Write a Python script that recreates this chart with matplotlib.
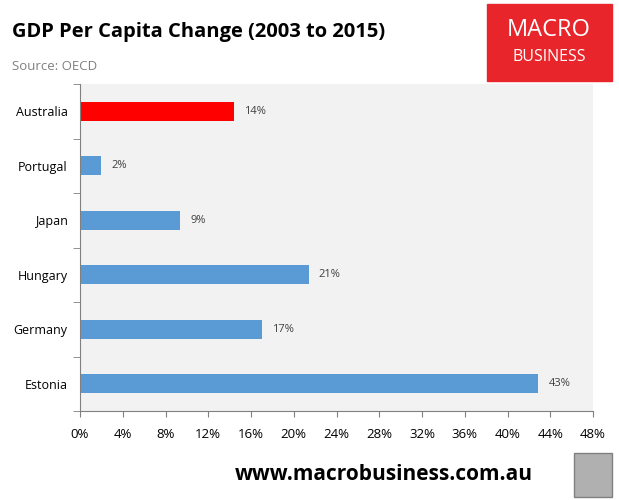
import matplotlib.pyplot as plt
from matplotlib.patches import Rectangle
from matplotlib.ticker import MultipleLocator, FuncFormatter

countries = ['Australia', 'Portugal', 'Japan', 'Hungary', 'Germany', 'Estonia']
change = [14.4, 2.0, 9.4, 21.4, 17.0, 42.9]
labels = ['14%', '2%', '9%', '21%', '17%', '43%']
colors = ['#ff0000'] + ['#5b9bd5'] * 5

plt.rcParams['font.family'] = ['Open Sans', 'DejaVu Sans']

W, H = 619, 500
fig = plt.figure(figsize=(W / 100, H / 100), dpi=100)
ax = fig.add_axes([80 / W, 1 - 411 / H, 513 / W, 327 / H])
ax.set_facecolor('#f2f2f2')

y = list(range(len(countries)))
ax.barh(y, change, height=0.35, color=colors)
for yi, v, lab in zip(y, change, labels):
    ax.text(v + 0.95, yi, lab, va='center', ha='left', fontsize=8, color='#404040')

ax.set_xlim(0, 48)
ax.set_ylim(len(countries) - 0.5, -0.5)
ax.xaxis.set_major_locator(MultipleLocator(4))
ax.xaxis.set_major_formatter(FuncFormatter(lambda v, p: f'{v:.0f}%'))
ax.set_yticks(y)
ax.set_yticklabels(countries)
ax.set_yticks([i - 0.5 for i in range(len(countries) + 1)], minor=True)
ax.tick_params(axis='y', which='major', length=0, pad=9, labelsize=9)
ax.tick_params(axis='y', which='minor', length=5, color='#808080', direction='out')
ax.tick_params(axis='x', length=4, color='#808080', labelsize=9.5, pad=8)
for s in ['top', 'right']:
    ax.spines[s].set_visible(False)
ax.spines['left'].set_color('#808080')
ax.spines['bottom'].set_color('#808080')

fig.text(12 / W, 1 - 32 / H, 'GDP Per Capita Change (2003 to 2015)', fontsize=14.5,
         fontweight='bold', va='center', ha='left')
fig.text(12 / W, 1 - 66 / H, 'Source: OECD', fontsize=9.5, color='#808080',
         va='center', ha='left')

# logo box
fig.patches.append(Rectangle((487 / W, 1 - 81 / H), 125 / W, 77 / H,
                             transform=fig.transFigure, color='#e8252a'))
fig.text(549 / W, 1 - 30 / H, 'MACRO', fontsize=17, color='white', ha='center', va='center')
fig.text(549 / W, 1 - 57 / H, 'BUSINESS', fontsize=11.5, color='white', ha='center', va='center')

fig.text(533 / W, 1 - 475 / H, 'www.macrobusiness.com.au', fontsize=15, fontweight='bold',
         ha='right', va='center')
fig.patches.append(Rectangle((574 / W, 1 - 497 / H), 38 / W, 44 / H,
                             transform=fig.transFigure, facecolor='#b0b0b0', edgecolor='#808080'))

fig.savefig('out.png', dpi=100)
